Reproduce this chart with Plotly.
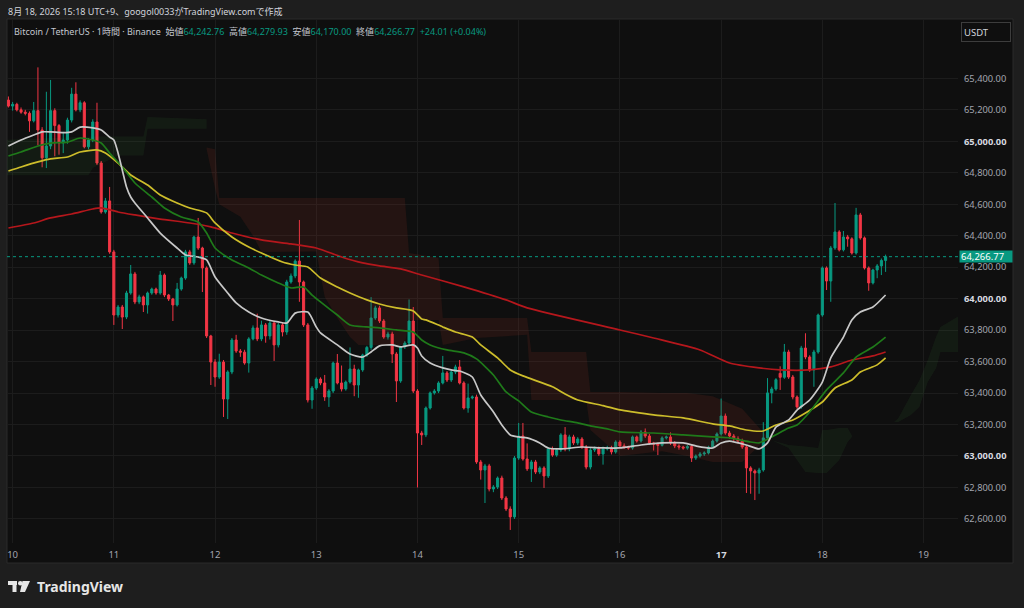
import pandas as pd
import plotly.graph_objects as go

UP = "#089981"
DOWN = "#f23645"

# 1h candles, Binance BTCUSDT, first one 2026-08-09 23:00 (UTC+9)
opens = [65262, 65224, 65235, 65200, 65185, 65178, 65130, 65195, 65072, 64895,
         64970, 65195, 65100, 64990, 65008, 65135, 65300, 65200, 65245, 64965,
         65008, 65123, 64862, 64551, 64621, 64297, 63896, 63947, 63883, 64036,
         64157, 63979, 64011, 63960, 64036, 64061, 64036, 64150, 64023, 63998,
         63960, 64061, 64131, 64297, 64227, 64392, 64322, 64195, 63763, 63597,
         63502, 63597, 63362, 63534, 63737, 63667, 63660, 63591, 63744, 63814,
         63744, 63833, 63763, 63845, 63706, 63833, 63788, 64106, 64144, 64239,
         64106, 63833, 63356, 63432, 63489, 63464, 63375, 63413, 63591, 63464,
         63426, 63470, 63553, 63451, 63547, 63642, 63690, 63877, 63941, 63858,
         63756, 63775, 63648, 63477, 63693, 63718, 63858, 63413, 63146, 63134,
         63305, 63401, 63413, 63464, 63528, 63483, 63534, 63566, 63464, 63305,
         63369, 63375, 62962, 62911, 62937, 62790, 62803, 62860, 62733, 62663,
         62613, 62987, 63127, 62981, 62918, 62962, 62898, 62924, 62873, 63045,
         63006, 63038, 63134, 63045, 63121, 63083, 63108, 63057, 62930, 63038,
         63045, 63013, 63045, 63051, 63026, 63089, 63064, 63057, 63051, 63121,
         63095, 63153, 63127, 63083, 63076, 63068, 63115, 63121, 63083, 63064,
         63057, 63050, 63060, 62987, 63000, 63013, 63019, 63057, 63095, 63140,
         63254, 63146, 63127, 63110, 63095, 63057, 62924, 62905, 62892, 62911,
         63115, 63401, 63426, 63525, 63500, 63661, 63502, 63375, 63312, 63686,
         63629, 63547, 63661, 63896, 64195, 64112, 64322, 64424, 64310, 64392,
         64380, 64290, 64532, 64386, 64195, 64100, 64182, 64208, 64242.76]
highs = [65285, 65250, 65245, 65215, 65200, 65190, 65250, 65470, 65090, 65315,
         65390, 65210, 65110, 65060, 65150, 65340, 65375, 65260, 65255, 65020,
         65140, 65245, 64875, 64640, 64710, 64310, 63960, 63960, 64050, 64214,
         64170, 64025, 64020, 64045, 64070, 64070, 64176, 64160, 64030, 64005,
         64100, 64140, 64310, 64310, 64400, 64513, 64330, 64205, 63770, 63615,
         63650, 63610, 63545, 63750, 63770, 63680, 63675, 63755, 63830, 63905,
         63860, 63845, 63860, 63855, 63845, 63845, 64120, 64160, 64250, 64500,
         64115, 63845, 63445, 63500, 63500, 63515, 63425, 63600, 63648, 63575,
         63480, 63690, 63580, 63555, 63650, 63700, 64010, 63955, 63955, 63870,
         63790, 63790, 63660, 63700, 63730, 63995, 63947, 63425, 63160, 63315,
         63410, 63425, 63475, 63636, 63540, 63545, 63580, 63610, 63475, 63460,
         63385, 63390, 62975, 62950, 62950, 62815, 62870, 62875, 62745, 62680,
         63000, 63210, 63210, 63080, 62975, 62975, 62935, 62935, 63055, 63060,
         63050, 63145, 63184, 63135, 63135, 63120, 63120, 63070, 63050, 63060,
         63060, 63060, 63065, 63065, 63100, 63100, 63080, 63065, 63130, 63130,
         63165, 63175, 63140, 63090, 63085, 63125, 63130, 63150, 63095, 63075,
         63065, 63070, 63070, 63010, 63025, 63030, 63065, 63105, 63150, 63365,
         63270, 63160, 63140, 63125, 63110, 63070, 62935, 62915, 62925, 63215,
         63495, 63440, 63495, 63570, 63712, 63675, 63515, 63385, 63700, 63780,
         63640, 63675, 63905, 64205, 64205, 64335, 64608, 64435, 64430, 64405,
         64390, 64577, 64545, 64395, 64205, 64190, 64220, 64255, 64279.93]
lows = [65215, 65195, 65190, 65175, 65165, 65060, 65120, 64975, 64835, 64830,
        64950, 64905, 64915, 64925, 64985, 65120, 65190, 65185, 64955, 64950,
        64995, 64850, 64540, 64540, 64285, 63833, 63880, 63807, 63870, 64025,
        63965, 63965, 63915, 63905, 64025, 64025, 64025, 64010, 63985, 63858,
        63950, 64050, 64120, 64215, 64215, 64310, 64042, 63750, 63451, 63440,
        63490, 63248, 63235, 63520, 63655, 63630, 63580, 63530, 63735, 63730,
        63730, 63720, 63740, 63604, 63690, 63760, 63770, 64095, 64130, 63980,
        63820, 63340, 63300, 63420, 63450, 63350, 63312, 63400, 63455, 63410,
        63415, 63460, 63380, 63370, 63535, 63630, 63675, 63865, 63845, 63745,
        63740, 63591, 63343, 63465, 63680, 63705, 63400, 62800, 63070, 63120,
        63295, 63390, 63400, 63455, 63470, 63470, 63520, 63455, 63295, 63275,
        63360, 62950, 62850, 62701, 62775, 62770, 62790, 62720, 62650, 62530,
        62600, 62975, 62970, 62905, 62835, 62885, 62885, 62797, 62860, 62995,
        62995, 63025, 63030, 63030, 63070, 63070, 63045, 62915, 62915, 63025,
        63000, 62945, 63035, 63010, 63015, 63050, 63045, 63040, 63040, 63085,
        63085, 63115, 63070, 63035, 63006, 63060, 63105, 63070, 63050, 63040,
        63040, 63040, 62962, 62975, 62990, 63000, 63010, 63045, 63085, 63130,
        63135, 63110, 63095, 63080, 63045, 62765, 62760, 62720, 62760, 62900,
        63105, 63335, 63415, 63420, 63490, 63490, 63360, 63300, 63300, 63615,
        63535, 63440, 63650, 63885, 64055, 63980, 64310, 64300, 64300, 64330,
        64280, 64280, 64375, 64185, 64050, 64090, 64130, 64150, 64170.00]
closes = [65224, 65235, 65200, 65185, 65178, 65130, 65195, 65072, 64895, 64970,
          65195, 65100, 64990, 65008, 65135, 65300, 65200, 65245, 64965, 65008,
          65123, 64862, 64551, 64621, 64297, 63896, 63947, 63883, 64036, 64157,
          63979, 64011, 63960, 64036, 64061, 64036, 64150, 64023, 63998, 63960,
          64061, 64131, 64297, 64227, 64392, 64322, 64195, 63763, 63597, 63502,
          63597, 63362, 63534, 63737, 63667, 63660, 63591, 63744, 63814, 63744,
          63833, 63763, 63845, 63706, 63833, 63788, 64106, 64144, 64239, 64106,
          63833, 63356, 63432, 63489, 63464, 63375, 63413, 63591, 63464, 63426,
          63470, 63553, 63451, 63547, 63642, 63690, 63877, 63941, 63858, 63756,
          63775, 63648, 63477, 63693, 63718, 63858, 63413, 63146, 63134, 63305,
          63401, 63413, 63464, 63528, 63483, 63534, 63566, 63464, 63305, 63369,
          63375, 62962, 62911, 62937, 62790, 62803, 62860, 62733, 62663, 62613,
          62987, 63127, 62981, 62918, 62962, 62898, 62924, 62873, 63045, 63006,
          63038, 63134, 63045, 63121, 63083, 63108, 63057, 62930, 63038, 63045,
          63013, 63045, 63051, 63026, 63089, 63064, 63057, 63051, 63121, 63095,
          63153, 63127, 63083, 63076, 63068, 63115, 63121, 63083, 63064, 63057,
          63050, 63060, 62987, 63000, 63013, 63019, 63057, 63095, 63140, 63254,
          63146, 63127, 63110, 63095, 63057, 62924, 62905, 62892, 62911, 63115,
          63401, 63426, 63485, 63500, 63661, 63502, 63375, 63312, 63686, 63629,
          63547, 63661, 63896, 64195, 64112, 64322, 64424, 64310, 64392, 64380,
          64290, 64532, 64386, 64195, 64100, 64182, 64208, 64242.76, 64266.77]

# moving averages (time "MM-DD HH", price)
ma_white = [("08-09 23", 64970), ("08-10 02", 65008), ("08-10 05", 65040), ("08-10 07", 65060),
            ("08-10 09", 65060), ("08-10 12", 65055), ("08-10 14", 65060), ("08-10 16", 65090),
            ("08-10 19", 65085), ("08-10 21", 65072), ("08-10 23", 65027), ("08-11 00", 65008),
            ("08-11 01", 64926), ("08-11 02", 64818), ("08-11 03", 64710), ("08-11 04", 64646),
            ("08-11 05", 64608), ("08-11 08", 64513), ("08-11 11", 64417), ("08-11 15", 64322),
            ("08-11 17", 64278), ("08-11 20", 64265), ("08-11 22", 64246), ("08-12 00", 64138),
            ("08-12 03", 64036), ("08-12 05", 63973), ("08-12 08", 63915), ("08-12 11", 63877),
            ("08-12 15", 63852), ("08-12 17", 63845), ("08-12 19", 63908), ("08-12 22", 63915),
            ("08-13 00", 63820), ("08-13 01", 63782), ("08-13 05", 63706), ("08-13 08", 63648),
            ("08-13 11", 63629), ("08-13 13", 63661), ("08-13 15", 63700), ("08-13 18", 63706),
            ("08-13 20", 63693), ("08-13 23", 63706), ("08-14 00", 63686), ("08-14 01", 63636),
            ("08-14 03", 63591), ("08-14 06", 63560), ("08-14 08", 63547), ("08-14 10", 63540),
            ("08-14 13", 63502), ("08-14 15", 63388), ("08-14 18", 63280), ("08-14 20", 63197),
            ("08-14 22", 63134), ("08-15 00", 63121), ("08-15 02", 63115), ("08-15 05", 63083),
            ("08-15 07", 63051), ("08-15 10", 63045), ("08-15 15", 63057), ("08-15 20", 63051),
            ("08-16 00", 63051), ("08-16 05", 63070), ("08-16 10", 63083), ("08-16 15", 63083),
            ("08-16 18", 63064), ("08-16 22", 63051), ("08-17 00", 63083), ("08-17 02", 63095),
            ("08-17 06", 63070), ("08-17 09", 63045), ("08-17 11", 63083), ("08-17 13", 63184),
            ("08-17 16", 63229), ("08-17 18", 63292), ("08-17 21", 63356), ("08-18 00", 63470),
            ("08-18 02", 63623), ("08-18 05", 63756), ("08-18 07", 63865), ("08-18 09", 63915),
            ("08-18 12", 63947), ("08-18 15", 64023)]
ma_green = [("08-09 23", 64907), ("08-10 02", 64932), ("08-10 06", 64970), ("08-10 09", 64989),
            ("08-10 13", 64995), ("08-10 16", 65021), ("08-10 19", 65008), ("08-10 21", 64989),
            ("08-10 23", 64926), ("08-11 02", 64837), ("08-11 05", 64735), ("08-11 09", 64646),
            ("08-11 12", 64576), ("08-11 16", 64519), ("08-11 20", 64487), ("08-11 22", 64417),
            ("08-12 00", 64322), ("08-12 04", 64246), ("08-12 08", 64195), ("08-12 11", 64150),
            ("08-12 15", 64100), ("08-12 18", 64068), ("08-12 21", 64074), ("08-12 23", 64023),
            ("08-13 01", 63979), ("08-13 05", 63896), ("08-13 08", 63833), ("08-13 12", 63820),
            ("08-13 15", 63814), ("08-13 19", 63801), ("08-13 23", 63788), ("08-14 01", 63737),
            ("08-14 03", 63706), ("08-14 07", 63674), ("08-14 11", 63655), ("08-14 14", 63617),
            ("08-14 18", 63515), ("08-14 21", 63407), ("08-15 00", 63350), ("08-15 03", 63280),
            ("08-15 07", 63248), ("08-15 10", 63229), ("08-15 14", 63210), ("08-15 17", 63191),
            ("08-15 21", 63172), ("08-16 00", 63153), ("08-16 08", 63146), ("08-16 15", 63134),
            ("08-16 22", 63121), ("08-17 02", 63115), ("08-17 07", 63089), ("08-17 09", 63083),
            ("08-17 12", 63121), ("08-17 16", 63178), ("08-17 18", 63197), ("08-17 21", 63280),
            ("08-18 01", 63420), ("08-18 05", 63528), ("08-18 08", 63629), ("08-18 12", 63693),
            ("08-18 15", 63756)]
ma_yellow = [("08-09 23", 64811), ("08-10 02", 64837), ("08-10 06", 64869), ("08-10 09", 64888),
             ("08-10 13", 64900), ("08-10 16", 64932), ("08-10 20", 64945), ("08-10 22", 64926),
             ("08-11 01", 64862), ("08-11 04", 64786), ("08-11 08", 64722), ("08-11 11", 64659),
             ("08-11 15", 64608), ("08-11 18", 64576), ("08-11 22", 64545), ("08-12 00", 64481),
             ("08-12 04", 64392), ("08-12 08", 64328), ("08-12 11", 64290), ("08-12 16", 64233),
             ("08-12 19", 64214), ("08-12 22", 64201), ("08-13 01", 64131), ("08-13 05", 64074),
             ("08-13 08", 64036), ("08-13 12", 63992), ("08-13 15", 63966), ("08-13 19", 63941),
             ("08-13 23", 63922), ("08-14 01", 63871), ("08-14 02", 63865), ("08-14 06", 63820),
             ("08-14 09", 63788), ("08-14 13", 63756), ("08-14 15", 63706), ("08-14 19", 63623),
             ("08-14 22", 63547), ("08-15 01", 63509), ("08-15 08", 63440), ("08-15 11", 63394),
             ("08-15 14", 63356), ("08-15 20", 63320), ("08-16 00", 63293), ("08-16 03", 63280),
             ("08-16 08", 63261), ("08-16 15", 63242), ("08-16 22", 63204), ("08-17 02", 63191),
             ("08-17 06", 63165), ("08-17 10", 63159), ("08-17 13", 63197), ("08-17 17", 63229),
             ("08-17 20", 63273), ("08-18 00", 63343), ("08-18 03", 63432), ("08-18 07", 63483),
             ("08-18 09", 63534), ("08-18 13", 63579), ("08-18 15", 63623)]
ma_red = [("08-09 23", 64449), ("08-10 05", 64481), ("08-10 09", 64513), ("08-10 14", 64538),
          ("08-10 19", 64570), ("08-10 21", 64577), ("08-11 01", 64551), ("08-11 05", 64532),
          ("08-11 11", 64506), ("08-11 18", 64481), ("08-11 23", 64456), ("08-12 04", 64417),
          ("08-12 11", 64373), ("08-12 18", 64348), ("08-13 00", 64322), ("08-13 06", 64265),
          ("08-13 11", 64227), ("08-13 15", 64208), ("08-13 20", 64189), ("08-14 01", 64150),
          ("08-14 11", 64075), ("08-14 21", 63992), ("08-15 02", 63941), ("08-16 00", 63801),
          ("08-16 08", 63750), ("08-16 19", 63674), ("08-17 02", 63591), ("08-17 09", 63560),
          ("08-17 14", 63547), ("08-17 21", 63547), ("08-18 02", 63566), ("08-18 07", 63610),
          ("08-18 12", 63636), ("08-18 15", 63661)]

# ichimoku cloud pieces (time, upper span, lower span)
cloud_green_1 = [("08-09 22", 65010, 64785), ("08-10 18", 65030, 64785), ("08-10 19", 65030, 64830),
                 ("08-11 01", 65030, 64910), ("08-11 07", 65030, 64910), ("08-11 08", 65155, 65080),
                 ("08-11 22", 65140, 65080)]
cloud_red_1 = [("08-11 22", 64960, 64950), ("08-12 00", 64950, 64700), ("08-12 01", 64640, 64600),
               ("08-12 06", 64640, 64520), ("08-12 09", 64640, 64400), ("08-12 11", 64640, 64297),
               ("08-13 00", 64640, 64300), ("08-13 02", 64640, 64011), ("08-13 05", 64640, 63877),
               ("08-13 08", 64640, 63756), ("08-13 10", 64640, 63706), ("08-13 21", 64640, 63706),
               ("08-13 22", 64290, 63865), ("08-14 05", 64260, 63865), ("08-14 06", 63877, 63706),
               ("08-14 14", 63877, 63750), ("08-15 02", 63877, 63770), ("08-15 03", 63661, 63356),
               ("08-15 16", 63661, 63356), ("08-15 17", 63407, 63165), ("08-16 00", 63407, 63000),
               ("08-16 10", 63400, 63030), ("08-16 16", 63400, 63000), ("08-16 22", 63380, 62962),
               ("08-17 05", 63300, 62962), ("08-17 10", 63150, 63090), ("08-17 12", 63100, 63100)]
cloud_green_2 = [("08-17 12", 63100, 63100), ("08-17 16", 63070, 63051), ("08-17 20", 63060, 62898),
                 ("08-17 23", 63051, 62892), ("08-18 00", 63165, 62892), ("08-18 01", 63165, 62892),
                 ("08-18 04", 63178, 62975), ("08-18 06", 63178, 63089), ("08-18 07", 63130, 63120)]
cloud_green_3 = [("08-18 17", 63216, 63216), ("08-18 18", 63240, 63216), ("08-18 21", 63388, 63260),
                 ("08-18 23", 63480, 63311), ("08-19 01", 63610, 63470), ("08-19 03", 63760, 63560),
                 ("08-19 04", 63820, 63661), ("08-19 09", 63900, 63661)]

price_ticks = list(range(62600, 65401, 200))
day_ticks = list(range(10, 20))
last_price = 64266.77


def ts(keys):
    return pd.to_datetime(["2026-" + k + ":00" for k in keys])


def px(x, y):
    # pixel position on the 1024x608 page -> paper coords
    return (x - 7) / 951, (543 - y) / 523


times = pd.date_range("2026-08-09 23:00", periods=len(closes), freq="h")

fig = go.Figure()

GREEN_CLOUD = "rgba(76,175,80,0.08)"
RED_CLOUD = "rgba(180,55,40,0.13)"
for piece, col in [(cloud_green_1, GREEN_CLOUD), (cloud_red_1, RED_CLOUD),
                   (cloud_green_2, GREEN_CLOUD), (cloud_green_3, GREEN_CLOUD)]:
    t = list(ts([p[0] for p in piece]))
    top = [p[1] for p in piece]
    bot = [p[2] for p in piece]
    fig.add_trace(go.Scatter(x=t + t[::-1], y=top + bot[::-1], mode="lines", fill="toself",
                             fillcolor=col, line=dict(width=0), hoverinfo="skip", showlegend=False))

fig.add_trace(go.Candlestick(
    x=times, open=opens, high=highs, low=lows, close=closes,
    increasing=dict(line=dict(color=UP, width=1), fillcolor=UP),
    decreasing=dict(line=dict(color=DOWN, width=1), fillcolor=DOWN),
    whiskerwidth=0, showlegend=False))

for ma, col in [(ma_red, "#b5171c"), (ma_yellow, "#cdbd2b"), (ma_green, "#1f7a1a"), (ma_white, "#c8c8c8")]:
    fig.add_trace(go.Scatter(x=ts([p[0] for p in ma]), y=[p[1] for p in ma], mode="lines",
                             line=dict(color=col, width=1.7, shape="spline", smoothing=0.6),
                             hoverinfo="skip", showlegend=False))

ytext = []
for v in price_ticks:
    if v % 1000 == 0:
        ytext.append(f'<b><span style="color:#d8dae0">{v:,.2f}</span></b>')
    else:
        ytext.append(f"{v:,.2f}")
xtext = [f'<b><span style="color:#d8dae0">{d}</span></b>' if d == 17 else str(d) for d in day_ticks]

fig.update_layout(
    width=1024, height=608,
    margin=dict(l=7, r=66, t=20, b=65),
    paper_bgcolor="#1e1e1e",
    plot_bgcolor="rgba(0,0,0,0)",
    font=dict(family="Noto Sans, Noto Sans CJK JP, sans-serif", color="#a3a6af", size=9.5),
    showlegend=False,
    xaxis=dict(type="date", range=["2026-08-09 22:40", "2026-08-19 08:10"],
               tickvals=[f"2026-08-{d:02d}" for d in day_ticks], ticktext=xtext,
               showgrid=True, gridcolor="#1c1c1c", zeroline=False, showline=False,
               ticks="", ticklabelstandoff=4, rangeslider=dict(visible=False),
               automargin=False, tickfont=dict(size=9.5, color="#a3a6af")),
    yaxis=dict(range=[62447, 65771], side="right", tickvals=price_ticks, ticktext=ytext,
               showgrid=True, gridcolor="#1c1c1c", zeroline=False, showline=False,
               ticks="", ticklabelstandoff=5, automargin=False,
               tickfont=dict(size=9.3, color="#a3a6af")),
)

x0, y0 = px(7, 563)
x1, y1 = px(1013, 19)
shapes = [dict(type="rect", xref="paper", yref="paper", x0=x0, y0=y0, x1=x1, y1=y1,
               fillcolor="#0f0f0f", line=dict(color="#2a2a2a", width=1), layer="below"),
          dict(type="line", xref="paper", yref="y", x0=0, x1=1, y0=last_price, y1=last_price,
               line=dict(color=UP, width=1, dash="dot"))]

# TradingView logo
for (ax, ay, bx, by) in [(8, 581, 17, 585), (12.5, 581, 16.5, 592)]:
    a = px(ax, by)
    b = px(bx, ay)
    shapes.append(dict(type="rect", xref="paper", yref="paper", x0=a[0], y0=a[1], x1=b[0], y1=b[1],
                       fillcolor="#e6e6e6", line=dict(width=0)))
a = px(18, 585.5)
b = px(22.5, 581)
shapes.append(dict(type="circle", xref="paper", yref="paper", x0=a[0], y0=a[1], x1=b[0], y1=b[1],
                   fillcolor="#e6e6e6", line=dict(width=0)))
pts = [px(22.5, 581), px(30, 581), px(25, 592), px(20, 592)]
path = "M " + " L ".join(f"{p[0]:.5f},{p[1]:.5f}" for p in pts) + " Z"
shapes.append(dict(type="path", xref="paper", yref="paper", path=path,
                   fillcolor="#e6e6e6", line=dict(width=0)))
fig.update_layout(shapes=shapes)

teal = f'<span style="color:{UP}">'
sp = "\u00a0\u00a0"
legend = ("Bitcoin / TetherUS · 1時間 · Binance" + sp +
          "始値" + teal + "64,242.76</span>" + sp +
          "高値" + teal + "64,279.93</span>" + sp +
          "安値" + teal + "64,170.00</span>" + sp +
          "終値" + teal + "64,266.77</span>" + sp +
          teal + "+24.01 (+0.04%)</span>")

hx, hy = px(6, 12)
lx, ly = px(12, 31)
ux, uy = px(961, 32)
bx_, by_ = px(959, 0)
tx, ty = px(35, 586)
fig.add_annotation(x=hx, y=hy, xref="paper", yref="paper", xanchor="left", yanchor="middle",
                   text="8月 18, 2026 15:18 UTC+9、googol0033がTradingView.comで作成",
                   showarrow=False, font=dict(size=9, color="#d1d4dc"))
fig.add_annotation(x=lx, y=ly, xref="paper", yref="paper", xanchor="left", yanchor="middle",
                   text=legend, showarrow=False, font=dict(size=9, color="#c3c6ce"))
fig.add_annotation(x=ux, y=uy, xref="paper", yref="paper", xanchor="left", yanchor="middle",
                   text="USDT", showarrow=False, align="left", width=44, height=14,
                   bordercolor="#3d3d3d", borderwidth=1, borderpad=2,
                   font=dict(size=9.5, color="#d1d4dc"))
fig.add_annotation(x=bx_, y=last_price, xref="paper", yref="y", xanchor="left", yanchor="middle",
                   text=f"{last_price:,.2f}", showarrow=False, align="left", width=50, height=9,
                   bgcolor=UP, borderpad=1, font=dict(size=9.5, color="#ffffff"))
fig.add_annotation(x=tx, y=ty, xref="paper", yref="paper", xanchor="left", yanchor="middle",
                   text="<b>TradingView</b>", showarrow=False,
                   font=dict(size=14, color="#e6e6e6", family="Noto Sans, sans-serif"))

# the page body has a default 8px margin; drop it so the figure fills the window
fig.write_html("out.html", config={"displayModeBar": False},
               post_script="document.body.style.margin='0';document.body.style.background='#1e1e1e';")
